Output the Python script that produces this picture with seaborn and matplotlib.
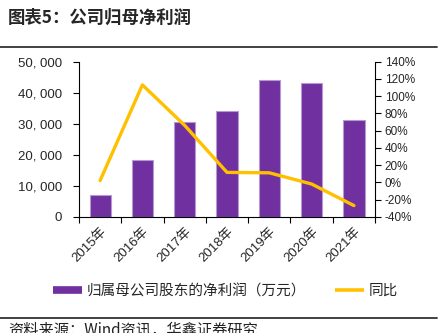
import numpy as np
import pandas as pd
import matplotlib
matplotlib.use("Agg")
import matplotlib.pyplot as plt
from matplotlib.lines import Line2D
from matplotlib.ticker import FuncFormatter, MultipleLocator, FixedLocator
import seaborn as sns

# Net profit attributable to parent company shareholders, and YoY growth
years = ["2015年", "2016年", "2017年", "2018年", "2019年", "2020年", "2021年"]
net_profit = [7030, 18450, 30580, 34030, 44030, 42970, 31030]   # 万元
yoy_pct = [2, 113, 66, 11.5, 11, -2, -27]                       # %

title = "图表5：公司归母净利润"
bar_label = "归属母公司股东的净利润（万元）"
line_label = "同比"
source = "资料来源：Wind资讯，华鑫证券研究"

BAR_COLOR = "#7030A0"
BAR_EDGE = "#B49AD0"
LINE_COLOR = "#FFC000"

sns.set_theme(style="white")
plt.rcParams["font.family"] = ["Liberation Sans", "Noto Sans CJK SC", "DejaVu Sans"]
plt.rcParams["axes.unicode_minus"] = True

df = pd.DataFrame({"year": years, "profit": net_profit, "yoy": yoy_pct,
                   "pos": np.arange(len(years))})

fig = plt.figure(figsize=(4.46, 3.33), dpi=100)
ax = fig.add_axes([0.177, 0.349, 0.664, 0.466])

sns.barplot(data=df, x="pos", y="profit", color=BAR_COLOR, width=0.5,
            edgecolor=BAR_EDGE, linewidth=0.8, saturation=1, ax=ax)
ax.set_ylim(0, 50000)
ax.set_xlim(-0.5, len(years) - 0.5)
ax.yaxis.set_major_locator(MultipleLocator(10000))
ax.yaxis.set_major_formatter(FuncFormatter(lambda v, p: f"{v:,.0f}".replace(",", ", ")))

ax2 = ax.twinx()
sns.lineplot(data=df, x="pos", y="yoy", color=LINE_COLOR, linewidth=2.4,
             ax=ax2, legend=False)
ax2.set_ylim(-40, 140)
ax2.yaxis.set_major_locator(MultipleLocator(20))
ax2.yaxis.set_major_formatter(FuncFormatter(lambda v, p: f"{v:.0f}%"))
ax2.set_xlim(-0.5, len(years) - 0.5)

# category labels centred, tick marks on category boundaries
ax.set_xticks(np.arange(len(years)))
ax.set_xticklabels(years, rotation=45, ha="right", rotation_mode="anchor",
                   fontsize=9.5, family=["Liberation Sans", "Noto Sans CJK SC"])
ax.xaxis.set_minor_locator(FixedLocator(np.arange(-0.5, len(years), 1.0)))
ax.tick_params(axis="x", which="major", length=0, pad=6)
ax.tick_params(axis="x", which="minor", length=4, width=0.8, color="black",
               direction="out", bottom=True)
ax.tick_params(axis="y", length=4, width=0.8, color="black", direction="out",
               left=True, labelsize=9.5, pad=8)
ax2.tick_params(axis="y", length=4, width=0.8, color="black", direction="out",
                right=True, labelsize=8.5, pad=3)
ax.set_xlabel("")
ax.set_ylabel("")
ax2.set_ylabel("")
ax2.set_xlabel("")

for a in (ax, ax2):
    a.spines["top"].set_visible(False)
    for s in ("left", "right", "bottom"):
        a.spines[s].set_color("black")
        a.spines[s].set_linewidth(0.8)
ax.spines["right"].set_visible(False)
ax2.spines["left"].set_visible(False)
ax2.spines["bottom"].set_visible(False)

# title and rules
fig.text(0.018, 0.948, title, fontsize=12.5, fontweight="bold",
         family=["Noto Sans CJK SC"], va="center", ha="left")
fig.add_artist(Line2D([0, 0.98], [0.859, 0.859], color="#333333", linewidth=1.3,
                      transform=fig.transFigure))
fig.add_artist(Line2D([0, 0.98], [0.045, 0.045], color="#333333", linewidth=1.3,
                      transform=fig.transFigure))
fig.text(0.018, 0.008, source, fontsize=11, family=["Noto Sans CJK SC"],
         va="center", ha="left", color="#222222")

handles = [Line2D([], [], color=BAR_COLOR, linewidth=5.5, solid_capstyle="butt"),
           Line2D([], [], color=LINE_COLOR, linewidth=2.6, solid_capstyle="butt")]
fig.legend(handles, [bar_label, line_label], loc="center", ncol=2,
           bbox_to_anchor=(0.505, 0.126), frameon=False, handlelength=2.0,
           handletextpad=0.3, columnspacing=2.0,
           prop={"family": "Noto Sans CJK SC", "size": 10.5})

fig.savefig("out.png", dpi=100)
